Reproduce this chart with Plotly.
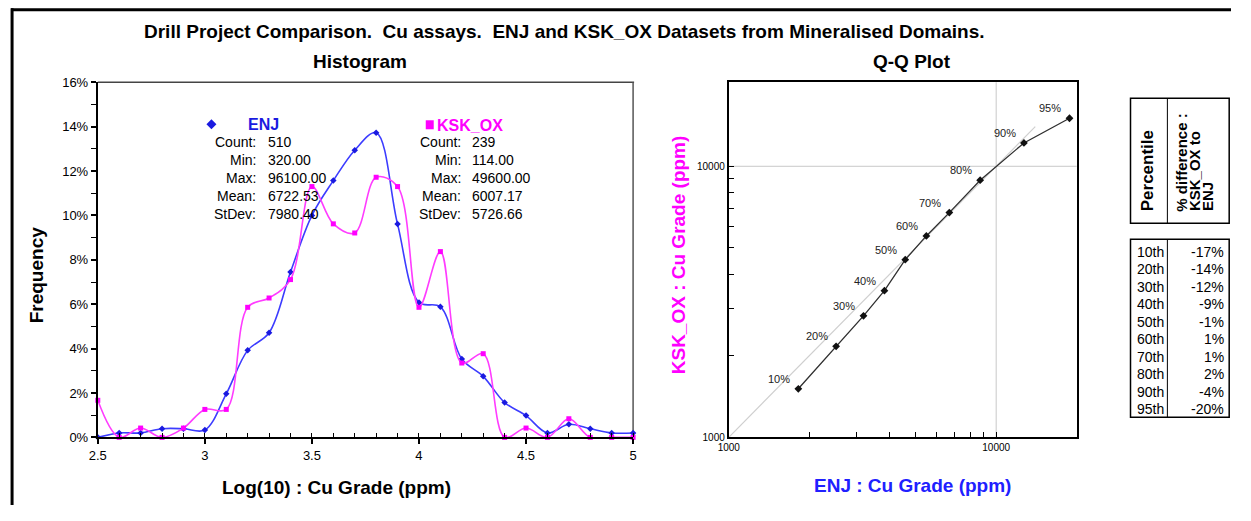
import math
import plotly.graph_objects as go

# Figure size inside the default 8px body margin
OFF = 8
W, H = 1235, 505
# layout coordinate scaling (x, y)
SX, SY = 0.991, 0.970

# ---- Histogram data (log10 Cu grade bins, % frequency) ----
bins = [2.5, 2.6, 2.7, 2.8, 2.9, 3.0, 3.1, 3.2, 3.3, 3.4, 3.5, 3.6, 3.7,
        3.8, 3.9, 4.0, 4.1, 4.2, 4.3, 4.4, 4.5, 4.6, 4.7, 4.8, 4.9, 5.0]
enj_freq = [0.0, 0.2, 0.2, 0.39, 0.39, 0.33, 1.96, 3.92, 4.71, 7.45, 10.0,
            11.57, 12.94, 13.73, 9.61, 6.08, 5.88, 3.53, 2.75, 1.57, 0.98,
            0.2, 0.59, 0.39, 0.2, 0.2]
ksk_freq = [1.67, 0.0, 0.42, 0.0, 0.42, 1.26, 1.26, 5.86, 6.28, 7.11, 11.3,
            9.62, 9.21, 11.72, 11.3, 5.86, 8.37, 3.35, 3.77, 0.0, 0.42,
            0.0, 0.84, 0.0, 0.0, 0.0]

freq_ticks = [0, 2, 4, 6, 8, 10, 12, 14, 16]
grade_ticks = [2.5, 3.0, 3.5, 4.0, 4.5, 5.0]
grade_tick_text = ["2.5", "3", "3.5", "4", "4.5", "5"]

stat_names = ["Count:", "Min:", "Max:", "Mean:", "StDev:"]
enj_stats = ["510", "320.00", "96100.00", "6722.53", "7980.40"]
ksk_stats = ["239", "114.00", "49600.00", "6007.17", "5726.66"]

# ---- Q-Q data ----
percentiles = [10, 20, 30, 40, 50, 60, 70, 80, 90, 95]
pct_labels = ["10th", "20th", "30th", "40th", "50th", "60th", "70th", "80th", "90th", "95th"]
enj_q = [1820, 2520, 3190, 3820, 4570, 5480, 6680, 8710, 12700, 18800]
pct_diff = [-17, -14, -12, -9, -1, 1, 1, 2, -4, -20]
ksk_q = [e * (1 + d / 100.0) for e, d in zip(enj_q, pct_diff)]
qq_ticks = [1000, 2000, 3000, 4000, 5000, 6000, 7000, 8000, 9000, 10000]
qq_tick_text = ["1000", "", "", "", "", "", "", "", "", "10000"]

ENJ_COL = "#3c3cff"
KSK_COL = "#ff3cff"
FONT = "Liberation Sans, Arial, sans-serif"


def px(x):
    """layout pixel x -> paper fraction"""
    return (x / SX - OFF) / W


def py(y):
    """layout pixel y -> paper fraction"""
    return 1 - (y / SY - OFF) / H


fig = go.Figure()

# Histogram traces
fig.add_trace(go.Scatter(
    x=bins, y=enj_freq, mode="lines+markers", name="ENJ",
    line=dict(color=ENJ_COL, width=1.6, shape="spline", smoothing=1.0),
    marker=dict(symbol="diamond", size=5, color="#1a1ae0"),
    cliponaxis=False, xaxis="x", yaxis="y"))
fig.add_trace(go.Scatter(
    x=bins, y=ksk_freq, mode="lines+markers", name="KSK_OX",
    line=dict(color=KSK_COL, width=1.6, shape="spline", smoothing=1.0),
    marker=dict(symbol="square", size=5, color="#ff00ff"),
    cliponaxis=False, xaxis="x", yaxis="y"))

# Q-Q traces
fig.add_trace(go.Scatter(
    x=[1000, 14000], y=[1000, 14000], mode="lines",
    line=dict(color="#cfcfcf", width=1.2), xaxis="x2", yaxis="y2",
    hoverinfo="skip"))
fig.add_trace(go.Scatter(
    x=enj_q, y=ksk_q, mode="lines+markers",
    line=dict(color="#303030", width=1.3),
    marker=dict(symbol="diamond", size=6, color="#111111"),
    xaxis="x2", yaxis="y2"))

hist_dom_x = [px(95), px(632)]
qq_dom_x = [px(728), px(1077)]
dom_y = [py(438), py(83)]

tick_font = dict(family=FONT, size=13, color="#000")
small_font = dict(family=FONT, size=10, color="#000")

fig.update_layout(
    width=W, height=H, margin=dict(l=0, r=0, t=0, b=0),
    paper_bgcolor="white", plot_bgcolor="white", showlegend=False,
    font=dict(family=FONT, color="#000"),
    xaxis=dict(domain=hist_dom_x, range=[2.5, 5.0], anchor="y",
               tickvals=grade_ticks, ticktext=grade_tick_text,
               ticks="outside", ticklen=5, tickwidth=1.5, tickcolor="#000",
               minor=dict(dtick=0.1, ticks="inside", ticklen=4, tickcolor="#000", tickwidth=1, showgrid=False),
               showline=True, linecolor="#000", linewidth=2,
               showgrid=False, zeroline=False, tickfont=tick_font),
    yaxis=dict(domain=dom_y, range=[0, 16], anchor="x",
               tickvals=freq_ticks, ticktext=[f"{v}%" for v in freq_ticks],
               ticks="outside", ticklen=5, tickwidth=1.5, tickcolor="#000",
               minor=dict(dtick=1, ticks="outside", ticklen=5, tickcolor="#000", tickwidth=1, showgrid=False),
               showline=True, linecolor="#000", linewidth=2,
               showgrid=False, zeroline=False, tickfont=tick_font),
    xaxis2=dict(domain=qq_dom_x, type="log", range=[3, math.log10(20000)],
                anchor="y2", tickvals=qq_ticks, ticktext=qq_tick_text,
                ticks="inside", ticklen=5, tickcolor="#000", tickwidth=1,
                showline=True, linecolor="#000", linewidth=2, mirror=True,
                showgrid=False, zeroline=False, tickfont=small_font),
    yaxis2=dict(domain=dom_y, type="log", range=[3, 3 + 355 / 271.0],
                anchor="x2", tickvals=qq_ticks, ticktext=qq_tick_text,
                ticks="inside", ticklen=5, tickcolor="#000", tickwidth=1,
                showline=True, linecolor="#000", linewidth=2, mirror=True,
                showgrid=False, zeroline=False, tickfont=small_font),
)

shapes = []
# outer frame (left / top black)
shapes.append(dict(type="line", xref="paper", yref="paper", x0=px(9), x1=px(9), y0=py(9), y1=py(520),
                   line=dict(color="#000", width=3)))
shapes.append(dict(type="line", xref="paper", yref="paper", x0=0, x1=1, y0=py(10.5), y1=py(10.5),
                   line=dict(color="#000", width=3)))
# histogram top/right frame
shapes.append(dict(type="line", xref="paper", yref="paper", x0=px(95), x1=px(633), y0=py(83), y1=py(83),
                   line=dict(color="#444", width=1.5), layer="below"))
shapes.append(dict(type="line", xref="paper", yref="paper", x0=px(632), x1=px(632), y0=py(83), y1=py(438),
                   line=dict(color="#555", width=1.5), layer="below"))
# Q-Q reference grid at 10000
shapes.append(dict(type="line", xref="x2", yref="y2 domain", x0=10000, x1=10000, y0=0, y1=1,
                   line=dict(color="#c8c8c8", width=1), layer="below"))
shapes.append(dict(type="line", xref="x2 domain", yref="y2", x0=0, x1=1, y0=10000, y1=10000,
                   line=dict(color="#c8c8c8", width=1), layer="below"))
# legend symbols
cx, cy, r = 209, 125, 5
shapes.append(dict(type="path", xref="paper", yref="paper",
                   path=f"M {px(cx - r)} {py(cy)} L {px(cx)} {py(cy - r)} L {px(cx + r)} {py(cy)} L {px(cx)} {py(cy + r)} Z",
                   fillcolor="#1a1ae0", line=dict(width=0)))
shapes.append(dict(type="rect", xref="paper", yref="paper", x0=px(424), x1=px(432), y0=py(130), y1=py(121),
                   fillcolor="#ff00ff", line=dict(width=0)))
# table boxes
for (y0, y1) in [(99, 224), (240, 418)]:
    shapes.append(dict(type="rect", xref="paper", yref="paper", x0=px(1131), x1=px(1230), y0=py(y1), y1=py(y0),
                       line=dict(color="#000", width=1.5)))
    shapes.append(dict(type="line", xref="paper", yref="paper", x0=px(1168), x1=px(1168), y0=py(y1), y1=py(y0),
                       line=dict(color="#000", width=1)))
fig.update_layout(shapes=shapes)

ann = []


def text(x, y, s, size=12, bold=False, color="#000", xanchor="center", yanchor="middle", angle=0, align="center"):
    ann.append(dict(xref="paper", yref="paper", x=px(x), y=py(y), text=f"<b>{s}</b>" if bold else s,
                    showarrow=False, xanchor=xanchor, yanchor=yanchor, textangle=angle, align=align,
                    font=dict(family=FONT, size=size, color=color)))


text(563, 32, "Drill Project Comparison.&nbsp; Cu assays.&nbsp; ENJ and KSK_OX Datasets from Mineralised Domains.",
     size=19, bold=True)
text(358, 62, "Histogram", size=19, bold=True)
text(912, 62, "Q-Q Plot", size=19, bold=True)
text(334, 488, "Log(10) : Cu Grade (ppm)", size=19, bold=True)
text(33, 275, "Frequency", size=19, bold=True, angle=-90)
text(677, 255, "KSK_OX : Cu Grade (ppm)", size=19, bold=True, color="#ff00ff", angle=-90)
text(912, 486, "ENJ : Cu Grade (ppm)", size=19, bold=True, color="#2020ff")

# stats blocks
text(244, 125, "ENJ", size=16, bold=True, color="#1a1ae0", xanchor="left")
text(433, 126, "KSK_OX", size=16, bold=True, color="#ff00ff", xanchor="left")
row_y = [143, 161, 179, 197, 215]
for name, ev, kv, yy in zip(stat_names, enj_stats, ksk_stats, row_y):
    text(256, yy, name, size=14, xanchor="right")
    text(264, yy, ev, size=14, xanchor="left")
    text(461, yy, name, size=14, xanchor="right")
    text(468, yy, kv, size=14, xanchor="left")

# percentile labels on the Q-Q curve
for p, ex, kx in zip(percentiles, enj_q, ksk_q):
    ann.append(dict(xref="x2", yref="y2", x=math.log10(ex), y=math.log10(kx), text=f"{p}%",
                    showarrow=False, xanchor="right", yanchor="middle", xshift=-6, yshift=10,
                    font=dict(family=FONT, size=11, color="#222")))

# table header (rotated)
text(1148, 214, "Percentile", size=17, bold=True, angle=-90, yanchor="bottom")
for xx, line in zip([1182, 1195.5, 1209], ["% difference :", "KSK_OX to", "ENJ"]):
    text(xx, 214, line, size=15, bold=True, angle=-90, yanchor="bottom")
# table rows
for i, (lab, d) in enumerate(zip(pct_labels, pct_diff)):
    yy = 252.3 + i * 17.5
    text(1136, yy, lab, size=14, xanchor="left")
    text(1227, yy, f"{d}%", size=14, xanchor="right")

fig.update_layout(annotations=ann)
fig.write_html("out.html")
